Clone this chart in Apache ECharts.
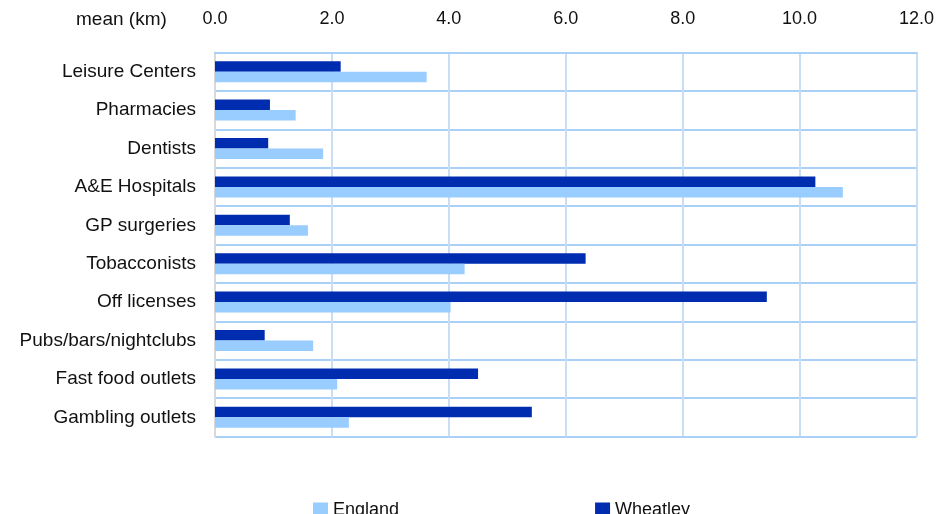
<!DOCTYPE html>
<html>
<head>
	<meta charset="utf-8">
	<title>mean distance</title>
	<style>
		html, body { margin: 0; padding: 0; background: #fff; }
		#main { width: 937px; height: 514px; }
	</style>
</head>
<body>
<div id="main"></div>
<script src="https://cdn.jsdelivr.net/npm/echarts@6/dist/echarts.min.js"></script>
<script>
	// categories from top to bottom
	var categories = ['Leisure Centers', 'Pharmacies', 'Dentists', 'A&E Hospitals', 'GP surgeries',
		'Tobacconists', 'Off licenses', 'Pubs/bars/nightclubs', 'Fast food outlets', 'Gambling outlets'];
	var wheatley = [2.15, 0.94, 0.91, 10.27, 1.28, 6.34, 9.44, 0.85, 4.50, 5.42];
	var england = [3.62, 1.38, 1.85, 10.74, 1.59, 4.27, 4.03, 1.68, 2.09, 2.29];
	var axisMax = 12;
	var axisStep = 2;

	var font = 'Liberation Sans, Arial, sans-serif';
	var myChart = echarts.init(document.getElementById('main'));
	var option = {
		animation: false,
		title: {
			text: 'mean (km)',
			left: 71,
			top: 5,
			textStyle: { fontFamily: font, fontSize: 19, fontWeight: 'normal', color: '#111' }
		},
		legend: {
			data: ['England', 'Wheatley'],
			left: 308,
			top: 496,
			itemWidth: 15,
			itemHeight: 15,
			itemGap: 196,
			icon: 'rect',
			textStyle: { fontFamily: font, fontSize: 18, color: '#111' }
		},
		grid: {
			left: 215,
			right: 19,
			top: 52.5,
			bottom: 77.5,
			containLabel: false
		},
		xAxis: {
			type: 'value',
			position: 'top',
			min: 0,
			max: axisMax,
			interval: axisStep,
			axisLine: { show: true, lineStyle: { color: '#a9d0f7', width: 2 } },
			axisTick: { show: false },
			axisLabel: {
				margin: 24,
				fontFamily: font,
				fontSize: 18,
				color: '#111',
				formatter: function (v) { return v.toFixed(1); }
			},
			splitLine: { show: true, lineStyle: { color: '#c9def5', width: 2 } }
		},
		yAxis: {
			type: 'category',
			data: categories,
			inverse: true,
			axisLine: { show: true, lineStyle: { color: '#d9d9d9', width: 2 } },
			axisTick: { show: false },
			axisLabel: { margin: 19, fontFamily: font, fontSize: 19, color: '#111' },
			splitLine: { show: true, lineStyle: { color: '#a9d0f7', width: 2 } }
		},
		series: [
			{
				name: 'Wheatley',
				type: 'bar',
				data: wheatley,
				barWidth: 10.5,
				barGap: '0%',
				itemStyle: { color: '#002db0' }
			},
			{
				name: 'England',
				type: 'bar',
				data: england,
				barWidth: 10.5,
				barGap: '0%',
				itemStyle: { color: '#99ccff' }
			}
		]
	};
	myChart.setOption(option);
</script>
</body>
</html>
